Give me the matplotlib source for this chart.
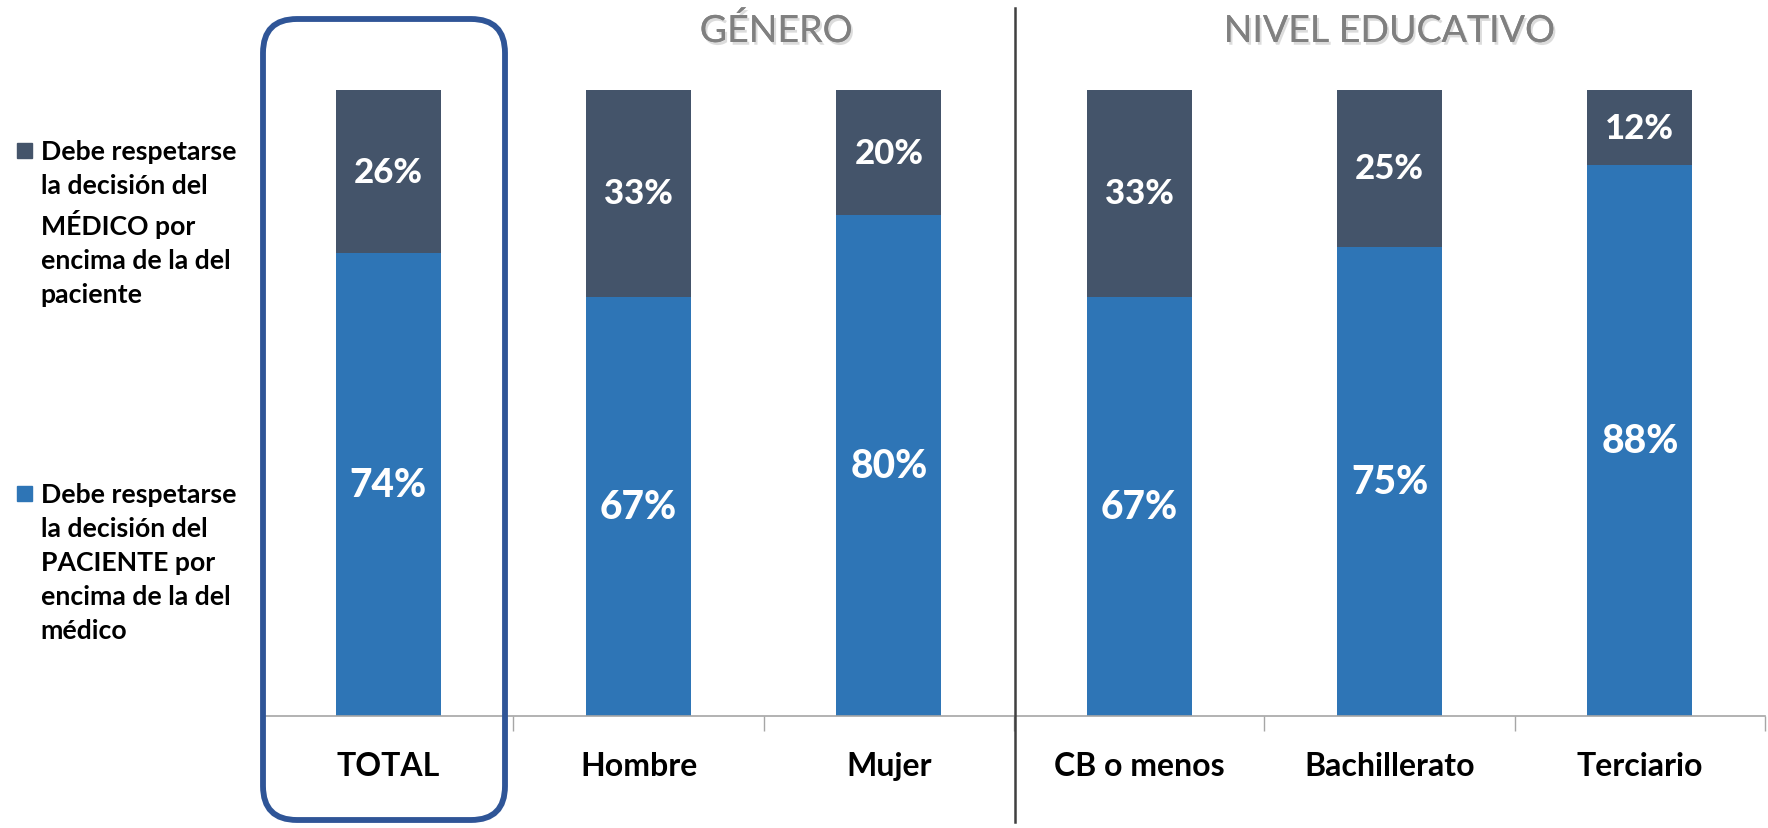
import numpy as np
import matplotlib
matplotlib.use('Agg')
import matplotlib.pyplot as plt
import matplotlib.patheffects as pe
from matplotlib.patches import FancyBboxPatch
from matplotlib.lines import Line2D

plt.rcParams['font.family'] = ['Lato', 'DejaVu Sans']

categorias = ['TOTAL', 'Hombre', 'Mujer', 'CB o menos', 'Bachillerato', 'Terciario']
paciente = [74, 67, 80, 67, 75, 88]
medico = [26, 33, 20, 33, 25, 12]
leyenda = ['Debe respetarse\nla decisión del\nMÉDICO por\nencima de la del\npaciente',
           'Debe respetarse\nla decisión del\nPACIENTE por\nencima de la del\nmédico']
grupos = ['GÉNERO', 'NIVEL EDUCATIVO']

c_pac = '#2E75B6'
c_med = '#44546A'

fig = plt.figure(figsize=(17.68, 8.29), dpi=100)
ax = fig.add_axes([0.1488, 0.1348, 0.8495, 0.7552])

x = np.arange(len(categorias))
ax.bar(x, paciente, width=0.42, color=c_pac)
ax.bar(x, medico, width=0.42, bottom=paciente, color=c_med)

for i in range(len(x)):
    ax.text(x[i], paciente[i] / 2, f'{paciente[i]}%', ha='center', va='center',
            color='white', fontsize=28, fontweight='black')
    ax.text(x[i], paciente[i] + medico[i] / 2, f'{medico[i]}%', ha='center', va='center',
            color='white', fontsize=25, fontweight='black')

ax.set_xlim(-0.5, len(x) - 0.5)
ax.set_ylim(0, 100)
ax.set_yticks([])
for s in ['top', 'right', 'left']:
    ax.spines[s].set_visible(False)
ax.spines['bottom'].set_color('#A6A6A6')
ax.spines['bottom'].set_linewidth(1.2)

# ticks en los limites de las categorias
ax.set_xticks(np.arange(len(x) + 1) - 0.5, minor=True)
ax.tick_params(axis='x', which='minor', length=11, color='#A6A6A6', width=1)
ax.set_xticks(x)
ax.set_xticklabels(categorias, fontsize=23, fontweight='bold')
ax.tick_params(axis='x', which='major', length=0, pad=25)

# leyenda
for k, (txt, col, yy) in enumerate(zip(leyenda, [c_med, c_pac], [0.818, 0.404])):
    fig.patches.append(plt.Rectangle((0.0096, yy - 0.0095), 0.0083, 0.0177,
                                     transform=fig.transFigure, color=col))
    fig.text(0.023, yy + 0.013, txt, ha='left', va='top', fontsize=19.2,
             fontweight='bold', linespacing=1.49)

# titulos de grupo
sombra = [pe.withSimplePatchShadow(offset=(1.5, -2), shadow_rgbFace='#bbbbbb', alpha=0.5), pe.Normal()]
fig.text(776 / 1768, 1 - 32 / 829, grupos[0], ha='center', va='center', fontsize=27,
         color='#808080', path_effects=sombra)
fig.text(1389 / 1768, 1 - 32 / 829, grupos[1], ha='center', va='center', fontsize=27,
         color='#808080', path_effects=sombra)

# caja redondeada TOTAL y separador
caja = FancyBboxPatch((2.63, 0.08), 2.42, 8.01, boxstyle='round,pad=0,rounding_size=0.34',
                      transform=fig.dpi_scale_trans, fill=False, edgecolor='#2F5597', linewidth=4.2)
fig.patches.append(caja)
fig.lines.append(Line2D([10.15, 10.15], [0.06, 8.20], transform=fig.dpi_scale_trans,
                        color='#404040', linewidth=1.8))

fig.savefig('out.png', dpi=100)
